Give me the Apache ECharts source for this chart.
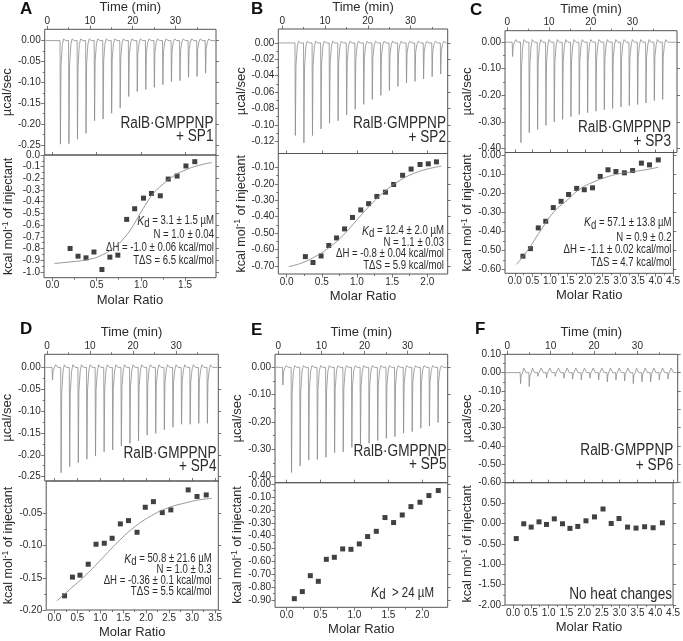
<!DOCTYPE html>
<html><head><meta charset="utf-8">
<script src="https://cdn.jsdelivr.net/npm/echarts@6/dist/echarts.min.js"></script>
<style>html,body{margin:0;padding:0;background:#fff}#c{width:683px;height:641px}</style>
</head><body><div id="c"></div>
<script>
// ---------------- DATA ----------------
// Thermogram injections (time in min, peak power in µcal/sec)
const A_injTime = [3,5,7,9,11,13,15,17,19,21,23,25,27,29,31,33,35,37];
const A_injPeak = [-0.248,-0.247,-0.236,-0.222,-0.192,-0.188,-0.174,-0.162,-0.134,-0.122,-0.117,-0.112,-0.106,-0.098,-0.096,-0.088,-0.086,-0.078];
const B_injTime = [3,5,7,9,11,13,15,17,19,21,23,25,27,29,31,33,35,37];
const B_injPeak = [-0.113,-0.122,-0.113,-0.105,-0.098,-0.095,-0.088,-0.081,-0.075,-0.069,-0.064,-0.058,-0.053,-0.049,-0.047,-0.044,-0.041,-0.038];
const C_injTime = [1.2,3.2,5.2,7.2,9.2,11.2,13.2,15.2,17.2,19.2,21.2,23.2,25.2,27.2,29.2,31.2,33.2,35.2,37.2];
const C_injPeak = [-0.054,-0.379,-0.341,-0.329,-0.314,-0.301,-0.291,-0.281,-0.273,-0.266,-0.260,-0.254,-0.250,-0.244,-0.239,-0.235,-0.229,-0.220,-0.216];
const D_injTime = [1.2,3.2,5.2,7.2,9.2,11.2,13.2,15.2,17.2,19.2,21.2,23.2,25.2,27.2,29.2,31.2,33.2,35.2,37.2];
const D_injPeak = [-0.029,-0.241,-0.227,-0.218,-0.210,-0.203,-0.193,-0.189,-0.180,-0.174,-0.168,-0.155,-0.151,-0.143,-0.137,-0.130,-0.130,-0.128,-0.128];
const E_injTime = [1,3,5,7,9,11,13,15,17,19,21,23,25,27,29,31,33,35,37];
const E_injPeak = [-0.065,-0.385,-0.361,-0.339,-0.337,-0.329,-0.312,-0.309,-0.293,-0.284,-0.278,-0.268,-0.260,-0.254,-0.241,-0.235,-0.223,-0.215,-0.202];
const F_injTime = [3,5,7,9,11,13,15,17,19,21,23,25,27,29,31,33,35,37];
const F_injPeak = [-0.060,-0.075,-0.020,-0.030,-0.020,-0.030,-0.035,-0.040,-0.030,-0.040,-0.050,-0.040,-0.045,-0.060,-0.050,-0.050,-0.040,-0.035];
// rebound above baseline after each injection
const A_rebound = 0.004, B_rebound = 0.002, C_rebound = 0.01, D_rebound = 0.006, E_rebound = 0.006, F_rebound = 0.025;

// Binding isotherms (molar ratio, kcal/mol of injectant)
const A_ratio = [0.20,0.29,0.38,0.47,0.56,0.65,0.74,0.84,0.93,1.03,1.12,1.22,1.31,1.41,1.51,1.61];
const A_heat  = [-0.80,-0.866,-0.88,-0.83,-0.98,-0.874,-0.857,-0.551,-0.46,-0.369,-0.329,-0.349,-0.206,-0.18,-0.094,-0.057];
const A_fitRatio = [0.02,0.2,0.4,0.55,0.7,0.8,0.9,0.97,1.05,1.13,1.25,1.37,1.5,1.65,1.8];
const A_fitHeat  = [-0.928,-0.915,-0.895,-0.86,-0.79,-0.72,-0.62,-0.53,-0.43,-0.34,-0.25,-0.18,-0.13,-0.09,-0.065];

const B_ratio = [0.267,0.375,0.49,0.60,0.71,0.824,0.937,1.054,1.166,1.283,1.405,1.522,1.649,1.77,1.897,2.014,2.13];
const B_heat  = [-0.644,-0.68,-0.64,-0.576,-0.53,-0.475,-0.405,-0.359,-0.321,-0.277,-0.251,-0.204,-0.148,-0.11,-0.082,-0.078,-0.066];
const B_fitRatio = [0.03,0.2,0.4,0.6,0.8,1.0,1.2,1.4,1.6,1.8,2.0,2.2];
const B_fitHeat  = [-0.705,-0.685,-0.645,-0.59,-0.515,-0.42,-0.325,-0.245,-0.182,-0.138,-0.11,-0.092];

const C_ratio = [0.232,0.445,0.668,0.88,1.095,1.317,1.53,1.76,1.976,2.21,2.43,2.65,2.876,3.117,3.35,3.6,3.83,4.08];
const C_heat  = [-0.53,-0.49,-0.381,-0.346,-0.274,-0.241,-0.205,-0.173,-0.18,-0.17,-0.11,-0.075,-0.084,-0.091,-0.079,-0.04,-0.049,-0.023];
const C_fitRatio = [0.05,0.37,0.74,1.11,1.48,1.86,2.23,2.6,2.97,3.34,3.71,4.08];
const C_fitHeat  = [-0.573,-0.498,-0.393,-0.297,-0.236,-0.175,-0.14,-0.114,-0.096,-0.086,-0.075,-0.062];

const D_ratio = [0.221,0.393,0.557,0.736,0.907,1.086,1.257,1.436,1.614,1.8,1.979,2.157,2.35,2.536,2.914,3.107,3.307];
const D_heat  = [-0.178,-0.149,-0.146,-0.129,-0.098,-0.0965,-0.0888,-0.0665,-0.0614,-0.0795,-0.0407,-0.032,-0.049,-0.0448,-0.0138,-0.024,-0.0216];
const D_fitRatio = [0.05,0.32,0.68,1.04,1.39,1.75,2.11,2.46,2.82,3.18,3.43];
const D_fitHeat  = [-0.186,-0.169,-0.146,-0.12,-0.094,-0.071,-0.054,-0.042,-0.0345,-0.029,-0.027];

const E_ratio = [0.113,0.231,0.349,0.467,0.585,0.703,0.826,0.948,1.071,1.194,1.322,1.45,1.577,1.705,1.833,1.966,2.098,2.236];
const E_heat  = [-0.89,-0.835,-0.711,-0.755,-0.584,-0.568,-0.503,-0.506,-0.464,-0.407,-0.366,-0.259,-0.298,-0.239,-0.174,-0.14,-0.088,-0.049];

const F_ratio = [0.09,0.30,0.51,0.73,0.94,1.16,1.39,1.6,1.82,2.05,2.29,2.53,2.76,2.98,3.22,3.46,3.7,3.94,4.2];
const F_heat  = [-0.37,-0.008,-0.089,0.04,-0.024,0.113,-0.008,-0.121,-0.073,0.065,0.161,0.355,0.0,0.121,-0.089,-0.113,-0.081,-0.105,0.016];

// Tick labels
const timeTicks = [0,10,20,30];
const timeMinor = [5,15,25,35];
const A_powTicks = [0,-0.05,-0.10,-0.15,-0.20,-0.25];
const A_heatTicks = [0,-0.1,-0.2,-0.3,-0.4,-0.5,-0.6,-0.7,-0.8,-0.9,-1.0];
const A_ratioTicks = [0,0.5,1.0,1.5];
const B_powTicks = [0,-0.02,-0.04,-0.06,-0.08,-0.10,-0.12];
const B_heatTicks = [-0.1,-0.2,-0.3,-0.4,-0.5,-0.6,-0.7];
const B_ratioTicks = [0,0.5,1.0,1.5,2.0];
const C_powTicks = [0,-0.1,-0.2,-0.3,-0.4];
const C_heatTicks = [0,-0.1,-0.2,-0.3,-0.4,-0.5,-0.6];
const C_ratioTicks = [0,0.5,1.0,1.5,2.0,2.5,3.0,3.5,4.0,4.5];
const D_powTicks = [0,-0.05,-0.10,-0.15,-0.20,-0.25];
const D_heatTicks = [-0.05,-0.10,-0.15,-0.20];
const D_ratioTicks = [0,0.5,1.0,1.5,2.0,2.5,3.0,3.5];
const E_powTicks = [0,-0.1,-0.2,-0.3,-0.4];
const E_heatTicks = [0,-0.1,-0.2,-0.3,-0.4,-0.5,-0.6,-0.7,-0.8,-0.9];
const E_ratioTicks = [0,0.5,1.0,1.5,2.0];
const F_powTicks = [0.1,0,-0.1,-0.2,-0.3,-0.4,-0.5,-0.6];
const F_heatTicks = [0.5,0,-0.5,-1.0,-1.5,-2.0];
const F_ratioTicks = [0,0.5,1.0,1.5,2.0,2.5,3.0,3.5,4.0,4.5];

// ---------------- LAYOUT / STYLE ----------------
const FONT = '"Liberation Sans",Arial,sans-serif';
const TC = '#2b2b2b';
const AX = '#555';
const SQ = 0.85;   // horizontal squeeze for the large labels
const SQN = 0.8;   // horizontal squeeze for fit annotations

const grids = [], xAxes = [], yAxes = [], series = [], graphics = [];

function mids(t){ const o=[]; for(let i=0;i<t.length-1;i++) o.push((t[i]+t[i+1])/2); return o; }

function addGrid(b){
  grids.push({left:b[0], top:b[1], width:b[2], height:b[3], show:true, borderColor:AX, borderWidth:1, backgroundColor:'transparent'});
  return grids.length-1;
}
function axisBase(gi, pos, range){
  return {gridIndex:gi, type:'value', position:pos, min:range[0], max:range[1], axisLine:{show:false, onZero:false}, splitLine:{show:false}, animation:false};
}
function addAxis(list, gi, pos, range, major, minor, dec, name, nameGap, isY, richName){
  const a = axisBase(gi,pos,range);
  a.axisTick = {show:true, inside:false, length:3.5, customValues:major, lineStyle:{color:AX,width:0.8}};
  a.axisLabel = {show:true, customValues:major, formatter:(v)=>(+v).toFixed(dec), fontSize:10, fontFamily:FONT, color:TC, margin:isY?4:3, hideOverlap:false};
  if(name){
    a.name = name; a.nameLocation='middle'; a.nameGap=nameGap;
    a.nameTextStyle = {fontSize:13, fontFamily:FONT, color:TC};
    if(richName) a.nameTextStyle.rich = richName;
  }
  list.push(a); const idx = list.length-1;
  if(minor && minor.length){
    const m = axisBase(gi,pos,range);
    m.axisLabel={show:false};
    m.axisTick={show:true, inside:false, length:2, customValues:minor, lineStyle:{color:AX,width:0.8}};
    list.push(m);
  }
  return idx;
}
function addMirror(list, gi, pos, range, major){
  const m = axisBase(gi,pos,range);
  m.axisLabel={show:false};
  m.axisTick={show:true, inside:false, length:3, customValues:major, lineStyle:{color:AX,width:0.8}};
  list.push(m);
}
function trace(times, peaks, reb, range){
  const pts = [[range[0]+0.2, 0]];
  for(let i=0;i<times.length;i++){
    const t = times[i], d = peaks[i];
    pts.push([t-0.03,0],[t+0.06,d],[t+0.2,d*0.25],[t+0.5,d*0.04],[t+0.8,reb],[t+1.3,0]);
  }
  pts.push([range[1]-0.2,0]);
  return pts;
}
function zip(a,b){ return a.map((v,i)=>[v,b[i]]); }

const kcalRich = {n:{fontSize:12.5, fontFamily:FONT, color:TC, lineHeight:16}, s:{fontSize:8.5, fontFamily:FONT, color:TC, verticalAlign:'top', lineHeight:16}};

function panel(p){
  // top thermogram
  const gt = addGrid(p.topBox);
  const xt = addAxis(xAxes, gt, 'top', p.tx, timeTicks, timeMinor, 0, 'Time (min)', 15, false);
  const yt = addAxis(yAxes, gt, 'left', p.ty, p.powTicks, mids(p.powTicks), 2, 'µcal/sec', 27, true);
  addMirror(yAxes, gt, 'right', p.ty, p.powTicks);
  series.push({type:'line', xAxisIndex:xt, yAxisIndex:yt, data:trace(p.injTime,p.injPeak,p.reb,p.tx), showSymbol:false, symbol:'none',
    lineStyle:{color:'#8c8c8c', width:0.8}, silent:true, animation:false});
  // bottom isotherm
  const gb = addGrid(p.botBox);
  const xb = addAxis(xAxes, gb, 'bottom', p.bx, p.ratioTicks, mids(p.ratioTicks), 1, 'Molar Ratio', 16, false);
  addMirror(xAxes, gb, 'top', p.bx, p.ratioTicks);
  const yb = addAxis(yAxes, gb, 'left', p.by, p.heatTicks, mids(p.heatTicks), p.heatDec, '{n|kcal mol}{s|-1}{n| of injectant}', 27, true, kcalRich);
  addMirror(yAxes, gb, 'right', p.by, p.heatTicks);
  if(p.fitX){
    series.push({type:'line', xAxisIndex:xb, yAxisIndex:yb, data:zip(p.fitX,p.fitY), smooth:0.5, showSymbol:false, symbol:'none',
      lineStyle:{color:'#8a8a8a', width:0.9}, silent:true, animation:false});
  }
  series.push({type:'scatter', xAxisIndex:xb, yAxisIndex:yb, data:zip(p.ratio,p.heat), symbol:'rect', symbolSize:5,
    itemStyle:{color:'#111'}, silent:true, animation:false});
  // texts
  graphics.push({type:'text', x:p.letter[0], y:p.letter[1], style:{text:p.key, font:'bold 17px "Liberation Sans",Arial,sans-serif', fill:'#111', align:'left', verticalAlign:'middle'}});
  graphics.push({type:'text', x:p.protX, y:p.protY[0], scaleX:SQ, style:{text:'RalB·GMPPNP', fontSize:16, fontFamily:FONT, fill:TC, align:'right', verticalAlign:'middle'}});
  graphics.push({type:'text', x:p.protX, y:p.protY[1], scaleX:SQ, style:{text:'+ '+p.ligand, fontSize:16, fontFamily:FONT, fill:TC, align:'right', verticalAlign:'middle'}});
  const ns = p.noteSize||12;
  const sq = p.noteSq||SQN;
  p.notes.forEach((t,i)=>{
    graphics.push({type:'text', x:p.noteX, y:p.noteY[i], scaleX:sq, style:{text:t, fontSize:ns, fontFamily:FONT, fill:TC, align:'right', verticalAlign:'middle',
      rich:{k:{fontStyle:'italic', fontSize:ns+1, fontFamily:FONT, fill:TC, lineHeight:ns+5},
            d:{fontSize:ns, fontFamily:FONT, fill:TC, verticalAlign:'bottom', lineHeight:ns+5},
            n:{fontSize:ns, fontFamily:FONT, fill:TC, lineHeight:ns+5}}}});
  });
}

panel({key:'A', letter:[20,9], topBox:[43.3,29.3,172.7,125.7], botBox:[43.3,155,172.7,122.7],
  tx:[-0.62,39.5], ty:[-0.274,0.027], bx:[-0.095,1.85], by:[-1.05,0],
  powTicks:A_powTicks, heatTicks:A_heatTicks, heatDec:1, ratioTicks:A_ratioTicks,
  injTime:A_injTime, injPeak:A_injPeak, reb:A_rebound, ratio:A_ratio, heat:A_heat, fitX:A_fitRatio, fitY:A_fitHeat,
  protX:213.5, protY:[124,137], ligand:'SP1',
  noteX:214, noteY:[221,235,248,261],
  notes:['{k|K}{d|d}{n| = 3.1 ± 1.5 µM}','N = 1.0 ± 0.04','ΔH = -1.0 ± 0.06 kcal/mol','TΔS = 6.5 kcal/mol']});

panel({key:'B', letter:[251,9], topBox:[278.3,28.3,169.4,125.2], botBox:[278.3,153.5,169.4,120.5],
  tx:[-0.93,38.7], ty:[-0.135,0.017], bx:[-0.118,2.29], by:[-0.75,-0.015],
  powTicks:B_powTicks, heatTicks:B_heatTicks, heatDec:2, ratioTicks:B_ratioTicks,
  injTime:B_injTime, injPeak:B_injPeak, reb:B_rebound, ratio:B_ratio, heat:B_heat, fitX:B_fitRatio, fitY:B_fitHeat,
  protX:446, protY:[124,137.5], ligand:'SP2',
  noteX:444, noteY:[231,242.5,254,265.5],
  notes:['{k|K}{d|d}{n| = 12.4 ± 2.0 µM}','N = 1.1 ± 0.03','ΔH = -0.8 ± 0.04 kcal/mol','TΔS = 5.9 kcal/mol']});

panel({key:'C', letter:[470,10], topBox:[505,30.7,172,121.8], botBox:[505,152.5,172,120.8],
  tx:[-0.56,40.7], ty:[-0.416,0.0435], bx:[-0.278,4.51], by:[-0.62,0.016],
  powTicks:C_powTicks, heatTicks:C_heatTicks, heatDec:2, ratioTicks:C_ratioTicks,
  injTime:C_injTime, injPeak:C_injPeak, reb:C_rebound, ratio:C_ratio, heat:C_heat, fitX:C_fitRatio, fitY:C_fitHeat,
  protX:671, protY:[127.7,141.7], ligand:'SP3',
  noteX:671.5, noteY:[222.7,237.3,250,262.7],
  notes:['{k|K}{d|d}{n| = 57.1 ± 13.8 µM}','N = 0.9 ± 0.2','ΔH = -1.1 ± 0.02 kcal/mol','TΔS = 4.7 kcal/mol']});

panel({key:'D', letter:[20,329], topBox:[43.3,354.3,175,126.7], botBox:[43.3,481,175,129],
  tx:[-0.55,39.8], ty:[-0.26,0.03], bx:[-0.179,3.57], by:[-0.20,0.0],
  powTicks:D_powTicks, heatTicks:D_heatTicks, heatDec:2, ratioTicks:D_ratioTicks,
  injTime:D_injTime, injPeak:D_injPeak, reb:D_rebound, ratio:D_ratio, heat:D_heat, fitX:D_fitRatio, fitY:D_fitHeat,
  protX:216.5, protY:[453.3,466.7], ligand:'SP4',
  noteX:211.7, noteY:[559,570,581,592],
  notes:['{k|K}{d|d}{n| = 50.8 ± 21.6 µM}','N = 1.0 ± 0.3','ΔH = -0.36 ± 0.1 kcal/mol','TΔS = 5.5 kcal/mol']});

panel({key:'E', letter:[251,330], topBox:[275,354.3,172.7,128.4], botBox:[275,482.7,172.7,124.6],
  tx:[-0.77,39.3], ty:[-0.422,0.0476], bx:[-0.172,2.375], by:[-0.957,0.012],
  powTicks:E_powTicks, heatTicks:E_heatTicks, heatDec:2, ratioTicks:E_ratioTicks,
  injTime:E_injTime, injPeak:E_injPeak, reb:E_rebound, ratio:E_ratio, heat:E_heat,
  protX:446.5, protY:[451.7,465], ligand:'SP5',
  noteX:434, noteY:[592.7], noteSize:14, noteSq:0.82,
  notes:['{k|K}{d|d}{n|  > 24 µM}']});

panel({key:'F', letter:[475,329.3], topBox:[505,354.3,172.7,128.4], botBox:[505,482.7,172.7,122.3],
  tx:[-0.53,39.3], ty:[-0.60,0.10], bx:[-0.227,4.5], by:[-2.0,1.0],
  powTicks:F_powTicks, heatTicks:F_heatTicks, heatDec:2, ratioTicks:F_ratioTicks,
  injTime:F_injTime, injPeak:F_injPeak, reb:F_rebound, ratio:F_ratio, heat:F_heat,
  protX:673.3, protY:[451,466], ligand:'SP6',
  noteX:672, noteY:[594.3], noteSize:16, noteSq:SQ,
  notes:['No heat changes']});

const chart = echarts.init(document.getElementById('c'), null, {renderer:'canvas'});
chart.setOption({animation:false, backgroundColor:'#fff', grid:grids, xAxis:xAxes, yAxis:yAxes, series:series, graphic:{elements:graphics}});
</script></body></html>
